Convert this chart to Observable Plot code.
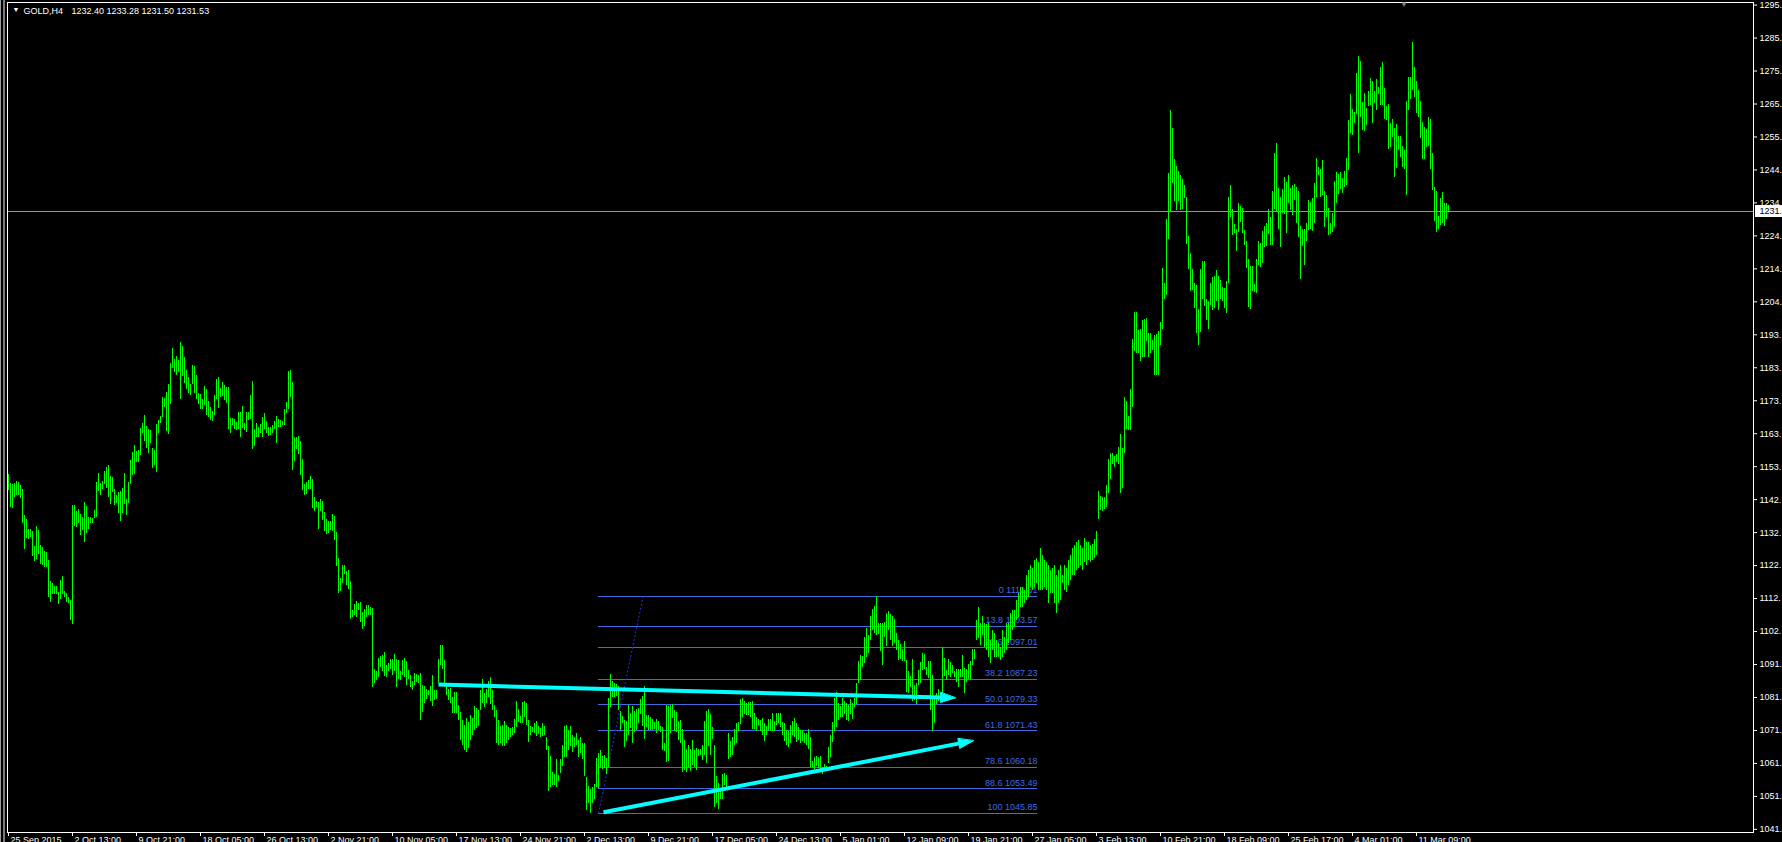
<!DOCTYPE html>
<html><head><meta charset="utf-8">
<script src="https://cdn.jsdelivr.net/npm/d3@7"></script>
<script src="https://cdn.jsdelivr.net/npm/@observablehq/plot@0.6"></script>
<style>
html,body{margin:0;padding:0;background:#000;overflow:hidden;width:1782px;height:842px}
#chart{position:absolute;left:0;top:0}
#edge{position:absolute;left:0;top:0;width:5px;height:842px;background:linear-gradient(90deg,#9c9c9c 0,#9c9c9c 1px,#000 1px,#000 3px,#7a7a7a 3px,#7a7a7a 5px)}
</style></head><body>
<div id="chart"></div><div id="edge"></div>
<script>
// ---------------- data ----------------
const symbolName = "GOLD,H4";
const lastOHLC = [1232.40, 1233.28, 1231.50, 1231.53];
const currentPrice = 1231.53;

const highs = [
1150.4,1147.6,1147.3,1147.6,1148.2,1147.9,1147.0,1145.8,1137.8,1136.5,
1133.4,1133.4,1132.8,1128.2,1134.4,1133.1,1128.5,1127.9,1126.7,1126.3,
1123.9,1117.4,1116.8,1115.9,1115.9,1114.0,1117.7,1118.9,1114.3,1113.7,
1112.5,1111.5,1140.8,1140.8,1139.0,1139.6,1138.1,1137.1,1141.8,1140.5,
1137.1,1137.1,1136.8,1139.3,1147.9,1150.7,1147.6,1148.2,1151.3,1152.6,
1153.2,1149.8,1149.5,1145.8,1143.9,1144.8,1145.2,1146.1,1150.7,1142.7,
1147.9,1154.7,1157.2,1159.4,1157.5,1157.8,1164.6,1166.1,1168.6,1165.2,
1164.3,1164.0,1158.4,1157.8,1165.8,1167.1,1168.3,1174.1,1173.8,1175.7,
1178.2,1184.6,1189.3,1185.9,1186.8,1185.6,1191.1,1189.9,1186.5,1182.5,
1180.3,1178.2,1184.0,1183.7,1180.9,1175.4,1175.1,1173.5,1177.5,1176.6,
1172.9,1171.1,1169.8,1174.8,1179.7,1180.3,1176.9,1178.8,1177.9,1177.2,
1177.2,1167.7,1167.7,1167.4,1166.4,1169.5,1169.5,1171.4,1166.1,1169.5,
1169.5,1174.8,1179.1,1164.3,1166.1,1164.9,1165.8,1168.0,1169.2,1166.7,
1164.9,1164.9,1165.5,1166.7,1168.3,1167.4,1167.1,1166.7,1170.4,1172.6,
1182.2,1182.5,1178.8,1161.8,1161.8,1162.1,1160.6,1155.0,1147.3,1147.9,
1148.5,1149.8,1148.9,1143.3,1142.1,1141.8,1142.7,1142.1,1138.7,1136.5,
1135.9,1135.9,1138.1,1137.4,1132.5,1124.5,1118.3,1122.3,1122.3,1120.5,
1120.8,1117.4,1108.5,1110.3,1111.2,1110.6,1110.9,1107.8,1108.8,1110.0,
1110.0,1109.4,1109.1,1090.3,1089.6,1093.6,1094.3,1094.6,1095.5,1091.5,
1092.1,1093.4,1093.4,1094.9,1093.4,1093.0,1089.6,1093.0,1093.6,1092.7,
1089.9,1088.4,1086.6,1089.0,1088.7,1088.4,1089.0,1085.3,1085.0,1084.1,
1083.8,1085.0,1088.4,1083.8,1083.8,1093.4,1097.6,1097.6,1093.0,1085.9,
1084.1,1084.4,1081.6,1083.2,1083.2,1079.1,1077.0,1074.5,1073.0,1075.1,
1073.9,1076.1,1075.1,1078.8,1078.2,1077.6,1083.8,1087.2,1082.8,1084.1,
1086.6,1087.8,1083.8,1079.1,1077.6,1074.5,1072.7,1073.0,1074.2,1073.0,
1072.4,1072.1,1072.4,1074.8,1080.4,1077.9,1075.8,1080.1,1080.4,1079.8,
1074.5,1072.7,1072.4,1073.6,1074.2,1072.7,1072.1,1073.6,1072.7,1069.3,
1066.5,1063.4,1058.5,1057.9,1062.5,1057.6,1062.5,1066.8,1072.7,1073.0,
1071.4,1072.7,1069.9,1069.3,1070.5,1068.4,1069.3,1067.4,1067.4,1056.9,
1054.2,1053.2,1053.9,1054.8,1062.8,1064.3,1065.3,1063.4,1063.7,1062.8,
1081.3,1088.7,1086.6,1085.9,1085.6,1085.0,1077.3,1075.8,1074.5,1074.2,
1079.1,1076.7,1078.8,1077.3,1077.9,1078.2,1081.0,1081.9,1085.0,1076.1,
1076.1,1075.5,1074.8,1073.9,1074.8,1074.2,1072.7,1072.4,1067.4,1079.1,
1078.8,1079.1,1079.5,1077.6,1077.0,1074.2,1074.5,1071.7,1068.4,1065.6,
1066.8,1065.6,1068.4,1065.3,1065.9,1065.6,1065.6,1066.8,1074.2,1077.3,
1077.9,1076.4,1072.4,1066.8,1057.2,1055.1,1053.2,1057.9,1058.2,1057.6,
1070.5,1068.0,1069.3,1071.7,1073.6,1073.9,1081.0,1081.3,1080.4,1079.8,
1080.1,1080.1,1080.4,1076.7,1075.5,1074.8,1074.5,1075.1,1073.6,1072.7,
1074.8,1074.8,1076.7,1074.2,1076.7,1076.7,1076.7,1073.9,1073.6,1071.4,
1071.1,1073.0,1074.2,1075.1,1073.6,1072.4,1071.4,1071.4,1070.5,1070.5,
1071.7,1069.3,1061.9,1063.1,1063.4,1063.1,1063.4,1060.0,1061.0,1060.3,
1066.2,1069.9,1073.9,1081.3,1083.2,1079.8,1078.8,1081.3,1080.4,1079.8,
1079.1,1081.0,1079.8,1081.3,1085.9,1092.7,1094.6,1094.3,1100.1,1102.9,
1100.7,1106.6,1108.8,1109.7,1112.8,1104.4,1104.4,1104.4,1104.7,1107.5,
1108.1,1107.2,1106.6,1105.7,1101.4,1099.2,1098.0,1096.4,1098.9,1093.0,
1089.6,1088.1,1093.4,1085.3,1085.9,1089.9,1092.4,1095.2,1094.9,1090.9,
1092.7,1092.7,1088.4,1081.6,1082.8,1084.1,1082.8,1097.0,1093.6,1089.9,
1093.4,1092.4,1091.5,1089.6,1090.3,1090.3,1090.3,1094.6,1090.6,1090.3,
1091.8,1092.7,1096.4,1096.4,1105.4,1109.4,1104.4,1106.6,1104.4,1104.1,
1104.4,1099.2,1102.3,1101.4,1099.2,1098.3,1097.0,1102.3,1100.1,1104.4,
1104.4,1107.5,1108.5,1108.5,1111.5,1113.7,1115.5,1115.5,1114.6,1119.2,
1120.8,1122.3,1121.4,1123.9,1124.5,1123.3,1127.6,1125.4,1123.9,1123.3,
1122.3,1120.8,1121.4,1122.3,1119.2,1120.8,1122.3,1119.2,1122.3,1121.4,
1123.9,1125.4,1127.6,1128.5,1129.4,1130.0,1128.5,1127.6,1130.7,1129.4,
1129.4,1128.5,1128.8,1130.4,1132.8,1145.2,1143.6,1143.3,1143.3,1147.0,
1155.0,1156.9,1156.9,1155.9,1156.6,1158.7,1162.7,1158.4,1174.1,1172.9,
1168.3,1176.6,1192.0,1200.4,1200.4,1194.8,1195.1,1197.9,1198.2,1198.5,
1193.9,1193.9,1191.7,1193.3,1193.6,1194.5,1197.3,1213.9,1209.3,1229.1,
1243.2,1262.7,1257.1,1247.6,1245.4,1243.8,1242.6,1241.4,1239.5,1235.8,
1223.8,1218.6,1213.6,1209.3,1208.7,1201.3,1213.6,1216.1,1216.1,1204.4,
1203.8,1209.3,1211.2,1211.5,1213.3,1211.5,1210.2,1208.1,1207.8,1209.9,
1235.8,1239.5,1232.1,1227.5,1226.0,1234.0,1233.1,1232.4,1225.7,1222.3,
1216.7,1214.6,1214.6,1209.0,1216.7,1222.3,1221.6,1225.4,1226.9,1227.8,
1232.1,1229.7,1237.7,1249.4,1252.5,1238.6,1235.8,1238.3,1242.0,1240.5,
1242.6,1238.6,1239.5,1239.9,1238.9,1237.7,1226.9,1226.0,1226.0,1227.8,
1234.9,1234.3,1235.5,1240.2,1247.9,1245.1,1244.5,1247.3,1237.7,1236.5,
1232.4,1227.8,1230.9,1240.8,1243.6,1242.9,1243.6,1241.7,1243.9,1247.9,
1259.6,1267.6,1263.0,1262.1,1274.1,1279.3,1277.8,1265.1,1267.9,1263.3,
1268.5,1272.5,1271.6,1268.5,1272.2,1269.8,1275.9,1277.5,1269.5,1263.9,
1264.5,1258.7,1259.9,1257.1,1258.4,1254.6,1254.6,1251.6,1250.3,1265.5,
1272.9,1272.9,1283.7,1275.9,1271.6,1268.9,1265.5,1259.0,1257.4,1256.8,
1260.5,1259.9,1249.4,1238.9,1237.7,1230.0,1235.5,1237.4,1234.0,1234.0,
1233.28
];
const lows = [
1145.5,1140.2,1139.9,1143.3,1143.9,1143.9,1143.0,1135.3,1127.3,1130.7,
1130.4,1131.0,1125.1,1123.6,1124.2,1125.7,1122.6,1122.3,1121.7,1121.7,
1112.5,1110.9,1113.4,1113.4,1113.4,1110.3,1111.8,1113.4,1112.5,1110.9,
1110.6,1105.4,1104.1,1134.4,1134.1,1135.3,1131.6,1133.1,1129.4,1132.2,
1133.4,1135.3,1135.3,1136.8,1137.1,1145.2,1143.9,1145.8,1147.3,1146.1,
1143.3,1141.1,1144.9,1140.8,1141.4,1138.4,1135.9,1138.4,1141.1,1137.8,
1141.4,1147.3,1150.1,1150.4,1154.1,1154.1,1156.3,1163.0,1160.6,1158.4,
1156.9,1160.0,1152.3,1153.2,1151.0,1163.0,1166.1,1168.0,1171.1,1163.7,
1162.7,1172.0,1183.1,1181.9,1180.9,1181.9,1173.5,1180.6,1178.5,1176.6,
1175.4,1174.8,1178.2,1175.4,1173.5,1172.0,1170.5,1170.5,1171.7,1168.6,
1168.0,1167.1,1166.7,1168.6,1173.5,1170.8,1174.1,1174.5,1173.2,1172.3,
1164.3,1163.0,1165.5,1164.3,1164.0,1164.3,1161.8,1164.6,1164.0,1163.4,
1167.1,1167.4,1158.1,1159.0,1161.8,1161.8,1163.0,1161.8,1164.3,1163.0,
1162.1,1162.4,1163.0,1164.3,1160.0,1164.9,1164.9,1165.5,1165.5,1169.2,
1170.4,1174.1,1151.6,1154.4,1158.1,1156.6,1150.1,1145.5,1143.9,1144.2,
1145.8,1145.8,1139.9,1139.0,1140.2,1133.4,1139.0,1136.2,1132.8,1131.9,
1132.2,1133.1,1132.8,1130.0,1122.0,1113.7,1114.3,1116.8,1119.5,1116.2,
1114.9,1105.7,1106.3,1106.9,1106.3,1108.5,1104.8,1102.6,1103.5,1106.3,
1106.9,1106.9,1084.7,1085.9,1086.9,1087.8,1090.9,1089.6,1088.1,1087.8,
1089.6,1090.3,1088.4,1089.6,1084.7,1087.2,1086.9,1088.4,1087.8,1085.3,
1087.2,1084.7,1083.8,1085.3,1086.2,1085.9,1074.5,1077.0,1079.8,1081.0,
1082.2,1080.4,1078.8,1080.7,1081.0,1085.9,1091.5,1090.3,1084.7,1082.2,
1080.7,1079.8,1076.7,1076.7,1076.7,1074.5,1068.4,1066.8,1065.3,1064.6,
1065.9,1068.4,1069.9,1071.4,1072.1,1072.7,1077.6,1079.8,1078.5,1079.8,
1081.6,1079.5,1077.6,1075.5,1067.4,1066.8,1067.4,1066.5,1066.5,1067.4,
1068.4,1069.3,1069.9,1070.5,1072.4,1073.9,1073.6,1073.6,1075.5,1073.0,
1067.7,1069.9,1070.8,1070.5,1069.6,1070.2,1069.3,1069.6,1069.9,1065.3,
1052.6,1053.9,1054.5,1054.5,1053.9,1055.7,1058.2,1060.3,1063.1,1063.1,
1065.3,1066.5,1064.6,1066.2,1066.8,1063.1,1064.3,1062.5,1057.2,1046.8,
1048.9,1045.8,1048.9,1050.2,1053.9,1053.6,1060.0,1059.4,1059.7,1057.9,
1060.0,1078.5,1081.6,1081.6,1081.9,1077.6,1071.4,1073.6,1066.2,1068.0,
1069.9,1072.1,1067.4,1070.8,1071.4,1073.6,1076.4,1072.7,1068.7,1072.4,
1071.4,1071.4,1071.4,1071.7,1070.5,1071.4,1070.8,1065.3,1065.0,1061.6,
1061.9,1070.5,1075.1,1071.1,1070.8,1068.4,1067.4,1058.5,1059.1,1058.5,
1060.0,1058.8,1060.6,1060.0,1059.1,1063.4,1063.7,1062.2,1063.7,1061.3,
1066.5,1063.7,1068.7,1047.7,1048.9,1047.1,1050.2,1050.2,1054.5,1053.9,
1062.5,1063.1,1063.7,1066.8,1067.4,1071.1,1073.3,1075.5,1076.4,1076.1,
1076.1,1075.5,1071.7,1071.7,1071.1,1073.0,1071.1,1069.9,1068.0,1069.9,
1071.4,1071.1,1071.1,1071.1,1073.0,1073.6,1072.4,1069.9,1068.0,1066.8,
1066.2,1067.4,1069.9,1069.3,1067.7,1068.4,1067.4,1068.0,1067.4,1066.8,
1065.6,1060.0,1060.0,1059.4,1060.3,1059.7,1058.8,1057.9,1059.4,1059.4,
1061.3,1063.1,1067.7,1071.1,1072.4,1074.5,1075.5,1075.5,1076.4,1074.5,
1074.2,1076.4,1074.8,1078.5,1079.5,1085.9,1086.9,1090.9,1092.1,1093.9,
1095.2,1099.2,1102.3,1101.4,1100.7,1101.0,1095.8,1091.5,1100.1,1097.3,
1102.3,1099.2,1097.3,1098.3,1096.1,1093.0,1093.3,1092.7,1092.7,1083.2,
1082.8,1084.7,1080.4,1080.7,1079.5,1085.3,1085.9,1089.9,1090.3,1088.4,
1087.5,1077.6,1071.1,1073.6,1079.5,1080.4,1080.1,1081.6,1088.1,1086.9,
1088.4,1087.8,1089.0,1087.8,1086.2,1084.7,1087.8,1087.8,1082.8,1086.2,
1087.2,1086.9,1091.5,1093.4,1099.2,1099.8,1097.6,1100.7,1097.0,1096.1,
1093.9,1092.1,1096.1,1093.9,1093.9,1093.9,1093.0,1093.9,1095.2,1096.1,
1098.3,1099.2,1102.3,1103.2,1105.4,1106.3,1109.4,1109.4,1110.6,1111.5,
1112.5,1115.5,1114.6,1115.5,1116.8,1114.6,1114.6,1114.6,1115.5,1114.6,
1110.6,1113.7,1113.7,1110.6,1107.5,1110.6,1111.5,1116.8,1114.6,1114.0,
1116.2,1117.7,1119.2,1119.2,1120.8,1121.4,1122.3,1120.8,1123.3,1122.3,
1123.9,1123.3,1123.9,1124.5,1125.4,1136.5,1139.3,1139.0,1139.6,1140.2,
1144.5,1148.9,1153.5,1152.6,1154.1,1153.5,1144.5,1146.1,1156.9,1164.3,
1164.0,1164.0,1171.1,1188.3,1187.7,1187.7,1185.3,1186.5,1186.5,1191.4,
1186.5,1187.7,1188.7,1180.9,1180.9,1180.9,1190.2,1195.1,1204.4,1205.6,
1222.9,1231.5,1240.2,1234.6,1231.8,1234.6,1231.8,1232.1,1235.5,1221.4,
1213.6,1206.9,1207.2,1201.6,1193.9,1190.2,1194.2,1204.4,1202.2,1197.9,
1195.1,1202.5,1201.0,1201.6,1203.8,1201.0,1204.4,1203.8,1201.6,1200.1,
1209.3,1229.7,1224.1,1224.7,1219.2,1225.0,1228.1,1224.7,1221.0,1213.9,
1201.9,1201.3,1206.9,1206.5,1206.2,1214.9,1214.3,1215.5,1220.4,1220.7,
1224.4,1221.0,1221.0,1232.1,1231.2,1226.0,1220.4,1230.9,1230.6,1224.7,
1234.0,1231.8,1230.3,1234.9,1227.8,1223.5,1210.5,1220.7,1214.9,1222.3,
1225.7,1226.0,1225.4,1227.8,1235.8,1242.6,1235.8,1236.5,1226.6,1229.7,
1224.1,1224.4,1225.0,1226.6,1234.0,1236.8,1238.3,1237.1,1238.9,1239.5,
1244.2,1255.6,1255.0,1258.7,1261.4,1249.4,1260.5,1256.5,1256.2,1258.0,
1263.9,1264.2,1258.7,1264.8,1262.7,1267.6,1264.2,1264.2,1259.9,1259.6,
1250.6,1251.3,1254.4,1242.0,1244.8,1250.3,1248.2,1245.1,1244.5,1236.5,
1262.7,1266.1,1268.9,1266.7,1261.8,1260.5,1254.0,1247.6,1247.6,1251.3,
1251.6,1244.5,1238.0,1228.4,1225.0,1226.0,1227.2,1227.8,1226.9,1229.1,
1231.50
];

// time axis: bar index of each labelled tick, and its label
const xTickBars = [0,32,64,96,128,160,192,224,256,288,320,352,384,416,448,480,512,544,576,608,640,672,704];
const xTickLabels = ["25 Sep 2015","2 Oct 13:00","9 Oct 21:00","18 Oct 05:00","26 Oct 13:00","2 Nov 21:00",
  "10 Nov 05:00","17 Nov 13:00","24 Nov 21:00","2 Dec 13:00","9 Dec 21:00","17 Dec 05:00","24 Dec 13:00",
  "5 Jan 01:00","12 Jan 09:00","19 Jan 21:00","27 Jan 05:00","3 Feb 13:00","10 Feb 21:00","18 Feb 09:00",
  "25 Feb 17:00","4 Mar 01:00","11 Mar 09:00"];

// price axis
const yTickValues = [1040.95,1051.12,1061.29,1071.46,1081.63,1091.80,1101.97,1112.14,1122.31,1132.48,1142.65,1152.82,1162.99,
  1173.16,1183.33,1193.50,1203.67,1213.84,1224.01,1234.18,1244.35,1254.52,1264.69,1274.86,1285.03,1295.20];
const yTickLabels = ["1041.","1051.","1061.","1071.","1081.","1091.","1102.","1112.","1122.","1132.","1142.","1153.","1163.",
  "1173.","1183.","1193.","1204.","1214.","1224.","1234.","1244.","1255.","1265.","1275.","1285.","1295."];

// Fibonacci retracement
const fibLevels = ["0","13.8","23.6","38.2","50.0","61.8","78.6","88.6","100"];
const fibPrices = [1112.81,1103.57,1097.01,1087.23,1079.33,1071.43,1060.18,1053.49,1045.85];
const fibBars = [295, 514.5];          // left / right bar of the level lines
const fibAnchorBars = [295, 317.3];    // trend line of the fib tool
const fibAnchorPrices = [1045.85, 1112.81];

// cyan arrows (start bar, start price, end bar, end price)
const arrowStartBars = [215, 297.5];
const arrowStartPrices = [1085.6, 1046.2];
const arrowEndBars = [473.5, 482.5];
const arrowEndPrices = [1081.5, 1068.3];

const chartShiftBar = [697.75];

// ---------------- drawing ----------------
const width = 1782, height = 842;
const mL = 7, mR = 29, mT = 2, mB = 10;
const xDomain = [-0.5, 872.5];
const yDomain = [1039.98, 1296.0];
const xs = d3.scaleLinear(xDomain, [mL, width - mR]);
const ys = d3.scaleLinear(yDomain, [height - mB, mT]);

const bars = highs.map((h, i) => ({i, h, l: lows[i]}));
const yLabelOf = new Map(yTickValues.map((v, i) => [v, yTickLabels[i]]));

const fibColor = "#4169e1";
const green = "#00ff00";
const cyan = "#00ffff";
const crisp = {shapeRendering: "crispEdges"};

// arrows: shafts and filled heads, built from the arrow data via the scales
const shafts = [], heads = [];
arrowStartBars.forEach((xb, k) => {
  const X1 = xs(xb), Y1 = ys(arrowStartPrices[k]);
  const X2 = xs(arrowEndBars[k]), Y2 = ys(arrowEndPrices[k]);
  const len = Math.hypot(X2 - X1, Y2 - Y1), ux = (X2 - X1) / len, uy = (Y2 - Y1) / len;
  const L = 15, Hw = 5;
  const bx = X2 - ux * L, by = Y2 - uy * L;
  shafts.push({x1: xb, y1: arrowStartPrices[k], x2: xs.invert(bx + ux * 2), y2: ys.invert(by + uy * 2)});
  [[X2, Y2], [bx - uy * Hw, by + ux * Hw], [bx + uy * Hw, by - ux * Hw]]
    .forEach(([px, py]) => heads.push({k, x: xs.invert(px), y: ys.invert(py)}));
});

const yBottom = yDomain[0];
const tickEnd = ys.invert(ys(yBottom) + 4);
const boxX1 = xs.invert(width - mR + 1.5), boxX2 = xs.invert(width);
const priceBox = [{y1: ys.invert(ys(currentPrice) - 6), y2: ys.invert(ys(currentPrice) + 6)}];

const plot = Plot.plot({
  width, height,
  marginLeft: mL, marginRight: mR, marginTop: mT, marginBottom: mB,
  style: {background: "#000", color: "#fff", fontFamily: "'Liberation Sans', Arial, sans-serif", fontSize: "9px", overflow: "visible"},
  x: {domain: xDomain, axis: null},
  y: {domain: yDomain, axis: "right", ticks: yTickValues, tickFormat: d => yLabelOf.get(d),
      tickSize: 3, tickPadding: 3, label: null},
  marks: [
    Plot.ruleY([currentPrice], {stroke: "#8a96a2", strokeWidth: 1, ...crisp}),
    Plot.ruleY(fibPrices, {y: d => d, x1: () => fibBars[0], x2: () => fibBars[1], stroke: fibColor, strokeWidth: 1, ...crisp}),
    Plot.link([0], {x1: () => fibAnchorBars[0], y1: () => fibAnchorPrices[0], x2: () => fibAnchorBars[1], y2: () => fibAnchorPrices[1],
      stroke: "#2233e6", strokeWidth: 1, strokeDasharray: "2,2"}),
    Plot.text(fibPrices, {x: () => fibBars[1], y: d => d, text: (d, i) => `${fibLevels[i]} ${d.toFixed(2)}`,
      textAnchor: "end", lineAnchor: "bottom", dy: -3, fill: fibColor, fontSize: 9}),
    Plot.ruleX(bars, {x: "i", y1: "l", y2: "h", stroke: green, strokeWidth: 1, ...crisp}),
    Plot.link(shafts, {x1: "x1", y1: "y1", x2: "x2", y2: "y2", stroke: cyan, strokeWidth: 4}),
    Plot.line(heads, {x: "x", y: "y", z: "k", fill: cyan, stroke: cyan, strokeWidth: 1, curve: "linear-closed"}),
    Plot.frame({stroke: "#fff", ...crisp}),
    Plot.ruleX(xTickBars, {x: d => d, y1: () => yBottom, y2: () => tickEnd, stroke: "#fff", ...crisp}),
    Plot.text(xTickBars, {x: d => d, y: () => yBottom, text: (d, i) => xTickLabels[i], textAnchor: "start",
      lineAnchor: "top", dx: 2, dy: 4, fill: "#fff", fontSize: 9}),
    Plot.rect(priceBox, {x1: () => boxX1, x2: () => boxX2, y1: "y1", y2: "y2", fill: "#fff", ...crisp}),
    Plot.text([currentPrice], {x: () => xs.invert(width - mR + 6), y: d => d, text: d => Math.floor(d) + ".",
      textAnchor: "start", fill: "#000", fontSize: 9}),
    Plot.text(["\u25BC"], {frameAnchor: "top-left", text: d => d, dx: 5, dy: 5, lineAnchor: "top", fontSize: 7, fill: "#fff"}),
    Plot.text([symbolName], {frameAnchor: "top-left", text: d => d, dx: 16, dy: 5, lineAnchor: "top", fontSize: 9, fill: "#fff"}),
    Plot.text([lastOHLC.map(v => v.toFixed(2)).join(" ")], {frameAnchor: "top-left", text: d => d, dx: 64, dy: 5,
      lineAnchor: "top", fontSize: 9, fill: "#fff"}),
    Plot.text(chartShiftBar, {x: d => d, y: () => yDomain[1], text: () => "\u25BC", lineAnchor: "top", dy: -1,
      fontSize: 8, fill: "#7f7f7f"})
  ]
});
document.getElementById("chart").appendChild(plot);
</script>
</body></html>
